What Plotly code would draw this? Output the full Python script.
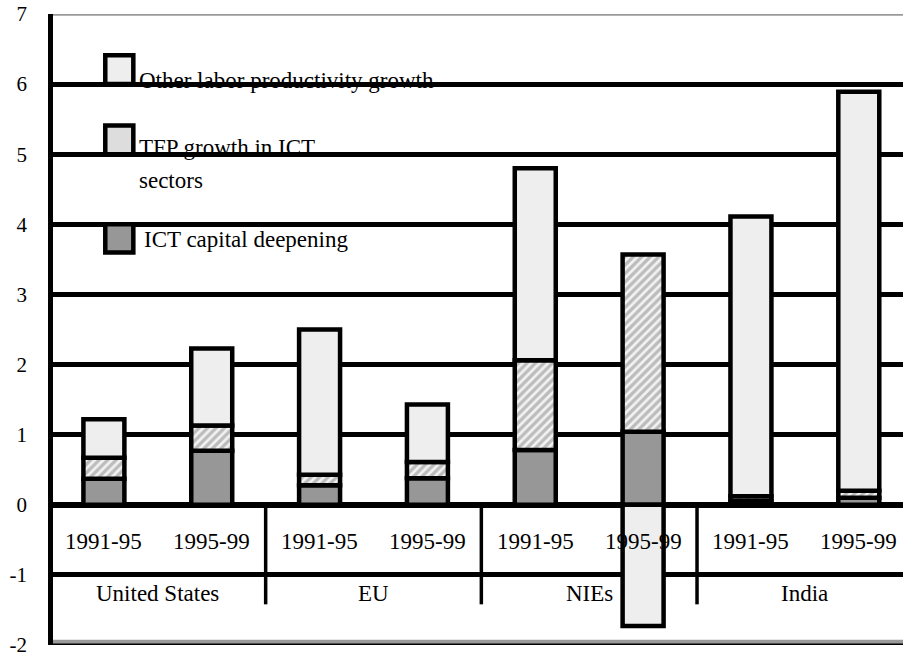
import plotly.graph_objects as go

# ---- data ----
groups = ["United States", "EU", "NIEs", "India"]
periods = ["1991-95", "1995-99"]
ict_capital = [0.37, 0.77, 0.28, 0.38, 0.78, 1.04, 0.05, 0.10]
tfp_ict = [0.30, 0.36, 0.15, 0.23, 1.28, 2.53, 0.07, 0.10]
other_lp = [0.55, 1.10, 2.07, 0.82, 2.74, -1.73, 3.99, 5.69]
y_ticks = list(range(-2, 8))

n_per = len(periods)
xs = list(range(len(groups) * n_per))
FONT = "Liberation Serif, Times New Roman, serif"
FS = 23
BORDER = dict(color="black", width=4.5)
BW = 0.38

fig = go.Figure()
fig.add_trace(go.Bar(x=xs, y=ict_capital, width=BW, name="ICT capital deepening",
                     marker=dict(color="#979797", line=BORDER)))
fig.add_trace(go.Bar(x=xs, y=tfp_ict, width=BW, name="TFP growth in ICT sectors",
                     marker=dict(color="#efefef", line=BORDER,
                                 pattern=dict(shape="/", fgcolor="#858585", bgcolor="#f2f2f2",
                                              size=6, solidity=0.55))))
fig.add_trace(go.Bar(x=xs, y=other_lp, width=BW, name="Other labor productivity growth",
                     marker=dict(color="#eeeeee", line=BORDER)))

shapes = []
annotations = []
# category labels
for i in xs:
    annotations.append(dict(x=i, y=-0.52, xref="x", yref="y", text=periods[i % n_per],
                            showarrow=False, font=dict(family=FONT, size=FS, color="black")))
for gi, g in enumerate(groups):
    cx = gi * n_per + (n_per - 1) / 2
    annotations.append(dict(x=cx, y=-1.27, xref="x", yref="y", text=g, showarrow=False,
                            font=dict(family=FONT, size=FS, color="black")))
    if gi > 0:
        sx = gi * n_per - 0.5
        shapes.append(dict(type="line", x0=sx, x1=sx, y0=0, y1=-1.42, xref="x", yref="y",
                           line=dict(color="black", width=3.5), layer="below"))

# frame lines
shapes.append(dict(type="line", x0=0, x1=1, xref="paper", y0=7, y1=7, yref="y",
                   line=dict(color="#9a9a9a", width=3.5), layer="above"))
shapes.append(dict(type="line", x0=0, x1=1, xref="paper", y0=-1.96, y1=-1.96, yref="y",
                   line=dict(color="#9a9a9a", width=5), layer="above"))
shapes.append(dict(type="line", x0=0, x1=1, xref="paper", y0=-2, y1=-2, yref="y",
                   line=dict(color="black", width=3), layer="above"))

# manual legend
leg_colors = ["#eeeeee", "#dddddd", "#979797"]
leg_y = [(6.41, 6.0), (5.41, 5.0), (4.0, 3.6)]
for (ya, yb), c in zip(leg_y, leg_colors):
    shapes.append(dict(type="rect", xref="paper", yref="y", x0=0.0615, x1=0.0945,
                       y0=yb, y1=ya, fillcolor=c, line=dict(color="black", width=4.5),
                       layer="above"))
leg_text = [("Other labor productivity growth", 6.05, 0.099),
            ("TFP growth in ICT", 5.10, 0.099),
            ("sectors", 4.63, 0.099),
            ("ICT capital deepening", 3.78, 0.105)]
for t, y, x in leg_text:
    annotations.append(dict(x=x, y=y, xref="paper", yref="y", text=t, showarrow=False,
                            xanchor="left", yanchor="middle",
                            font=dict(family=FONT, size=FS, color="black")))

fig.update_layout(
    width=903, height=659,
    margin=dict(l=53, r=0, t=14, b=14, autoexpand=False),
    paper_bgcolor="white", plot_bgcolor="white",
    barmode="relative", showlegend=False,
    shapes=shapes, annotations=annotations,
    xaxis=dict(range=[-0.472, 7.41], showticklabels=False, showgrid=False, zeroline=False,
               showline=False, fixedrange=True, automargin=False),
    yaxis=dict(range=[-2, 7], tickvals=y_ticks, ticktext=[str(v) for v in y_ticks],
               showgrid=True, gridcolor="black", gridwidth=5,
               zeroline=True, zerolinecolor="black", zerolinewidth=6,
               showline=True, linecolor="black", linewidth=4.5,
               ticks="", ticklabelstandoff=17, automargin=False,
               ticklabeloverflow="allow",
               tickfont=dict(family=FONT, size=21, color="black"), fixedrange=True),
)

# remove the default 8px page margin so the figure fills the window exactly
fig.write_html("out.html", config={"displayModeBar": False},
               post_script="document.body.style.margin='0px';")
